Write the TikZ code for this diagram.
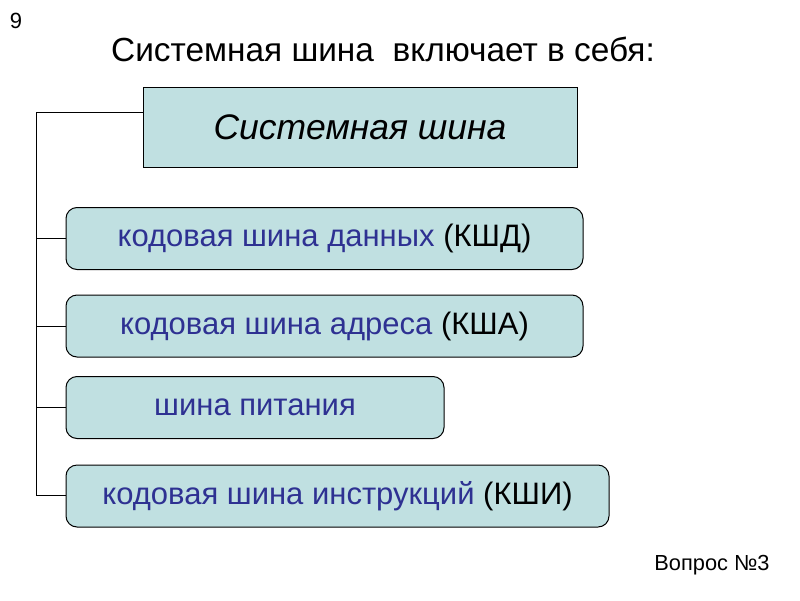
\documentclass[tikz,border=0pt]{standalone}
\usepackage{fontspec}
\setmainfont{Liberation Sans}
\usetikzlibrary{positioning}

\definecolor{busfill}{RGB}{192,224,225}
\definecolor{busblue}{RGB}{46,49,146}

\begin{document}
\begin{tikzpicture}[x=1pt, y=-1pt, every node/.style={inner sep=0pt},
  headbox/.style={draw, line width=1pt, fill=busfill, minimum width=434pt, minimum height=80pt, font=\fontsize{35.5}{40}\selectfont\itshape},
  busbox/.style={draw, line width=1pt, fill=busfill, rounded corners=11pt, minimum height=62pt, text=busblue, font=\fontsize{31}{36}\selectfont},
  tree/.style={line width=1pt}]
\useasboundingbox (0,0) rectangle (800,600);
\node (num) at (16,21) {\fontsize{22}{24}\selectfont 9};
\node (title) at (383,49) {\fontsize{33.4}{38}\selectfont Системная шина\ \ включает в себя:};
\node[headbox] (bus) at (360,127) {Системная шина};
\node[busbox, minimum width=517pt] (data) at (324.5,238.5) {кодовая шина данных \textcolor{black}{(КШД)}};
\node[busbox, minimum width=517pt] (addr) at (324.5,326) {кодовая шина адреса \textcolor{black}{(КША)}};
\node[busbox, minimum width=378pt] (power) at (255,407.5) {шина питания};
\node[busbox, minimum width=543pt] (instr) at (337.5,496) {кодовая шина инструкций \textcolor{black}{(КШИ)}};
\node (q) at (712,565) {\fontsize{21.8}{24}\selectfont Вопрос №3};
% spine on the left
\coordinate (top) at (36,112);
\coordinate (bot) at (36,495);
\draw[tree] (bus.west |- top) -- (top) -- (bot) -- (instr.west |- bot);
\draw[tree] (36,0 |- data.west) -- (data.west);
\draw[tree] (36,0 |- addr.west) -- (addr.west);
\draw[tree] (36,0 |- power.west) -- (power.west);
\end{tikzpicture}
\end{document}
